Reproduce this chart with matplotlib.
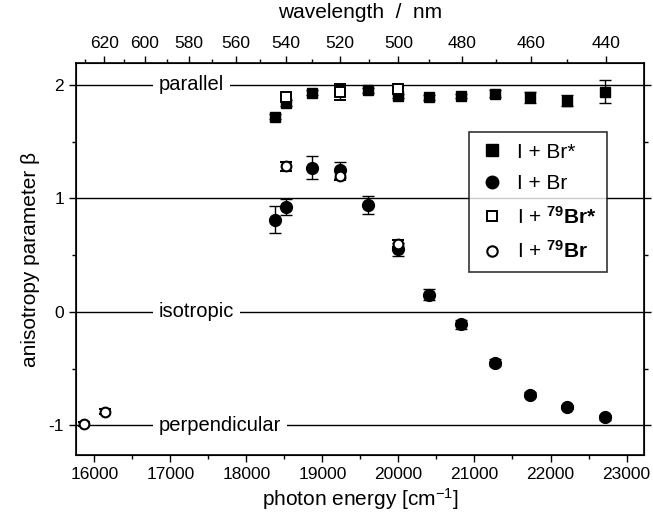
import numpy as np
import matplotlib
matplotlib.use("Agg")
import matplotlib.pyplot as plt
from matplotlib.lines import Line2D

plt.rcParams['font.family'] = ['Liberation Sans', 'DejaVu Sans']
plt.rcParams['mathtext.fontset'] = 'custom'
plt.rcParams['mathtext.rm'] = 'Liberation Sans'
plt.rcParams['mathtext.bf'] = 'Liberation Sans:bold'
plt.rcParams['mathtext.it'] = 'Liberation Sans:italic'
plt.rcParams['axes.unicode_minus'] = False

# I + Br* (filled squares)
e_brs = [18380, 18520, 18860, 19600, 20000, 20400, 20820, 21270, 21730, 22220, 22720]
b_brs = [1.72, 1.84, 1.93, 1.95, 1.90, 1.89, 1.90, 1.92, 1.89, 1.86, 1.94]
s_brs = [0.02, 0.03, 0.02, 0.02, 0.02, 0.02, 0.02, 0.03, 0.05, 0.05, 0.10]

# I + Br (filled circles)
e_br = [18380, 18520, 18860, 19230, 19600, 20000, 20400, 20820, 21270, 21730, 22220, 22720]
b_br = [0.81, 0.92, 1.27, 1.25, 0.94, 0.55, 0.15, -0.11, -0.45, -0.73, -0.84, -0.93]
s_br = [0.12, 0.07, 0.10, 0.07, 0.08, 0.06, 0.05, 0.04, 0.03, 0.02, 0.02, 0.02]

# I + 79Br* (open squares)
e_79s = [18520, 19230, 20000]
b_79s = [1.89, 1.94, 1.96]
s_79s = [0.02, 0.07, 0.02]

# I + 79Br (open circles)
e_79 = [15860, 16140, 18520, 19230, 20000]
b_79 = [-0.99, -0.88, 1.28, 1.20, 0.60]
s_79 = [0.02, 0.02, 0.04, 0.04, 0.03]

ref_levels = [2, 1, 0, -1]
ref_labels = {2: 'parallel', 0: 'isotropic', -1: 'perpendicular'}

x_ticks = [16000, 17000, 18000, 19000, 20000, 21000, 22000, 23000]
y_ticks = [-1, 0, 1, 2]
wl_major = [620, 600, 580, 560, 540, 520, 500, 480, 460, 440]
wl_minor = [630, 610, 590, 570, 550, 530, 510, 490, 470, 450]

fig = plt.figure(figsize=(6.53, 5.18), dpi=100)
ax = fig.add_axes([0.116, 0.122, 0.870, 0.756])
xlim = (15755, 23228)
ax.set_xlim(*xlim)
ax.set_ylim(-1.26, 2.19)

for lv in ref_levels:
    ax.axhline(lv, color='black', lw=1.0, zorder=1)
for lv, lab in ref_labels.items():
    ax.text(16850, lv, lab, ha='left', va='center', fontsize=14.5,
            bbox=dict(facecolor='white', edgecolor='none', pad=4), zorder=2)

ekw = dict(ecolor='black', elinewidth=1.0, capsize=4, capthick=1.0, linestyle='none', zorder=3)
ax.errorbar(e_brs, b_brs, yerr=s_brs, marker='s', ms=7.5, mfc='black', mec='black', **ekw)
ax.errorbar(e_br, b_br, yerr=s_br, marker='o', ms=8.5, mfc='black', mec='black', **ekw)
ax.errorbar(e_79s, b_79s, yerr=s_79s, marker='s', ms=6.5, mfc='white', mec='black', mew=1.4, **ekw)
ax.errorbar(e_79, b_79, yerr=s_79, marker='o', ms=7, mfc='white', mec='black', mew=1.5, **ekw)

ax.set_xticks(x_ticks)
ax.set_xticks(np.arange(16500, 23001, 1000), minor=True)
ax.set_yticks(y_ticks)
ax.set_yticks([-0.5, 0.5, 1.5], minor=True)
ax.tick_params(axis='both', which='major', direction='out', length=5, width=1.0, labelsize=12.5)
ax.tick_params(axis='both', which='minor', direction='out', length=3, width=1.0)
ax.tick_params(axis='y', right=True, which='both')
for sp in ax.spines.values():
    sp.set_linewidth(1.2)

ax.set_xlabel('photon energy [cm$^{-1}$]', fontsize=15, labelpad=3)
ax.set_ylabel('anisotropy parameter β', fontsize=15, labelpad=6)

ax2 = ax.twiny()
ax2.set_xlim(*xlim)
ax2.set_xticks([1e7 / w for w in wl_major])
ax2.set_xticklabels([str(w) for w in wl_major])
ax2.set_xticks([1e7 / w for w in wl_minor], minor=True)
ax2.tick_params(axis='x', which='major', direction='out', length=5, width=1.0, labelsize=12.5)
ax2.tick_params(axis='x', which='minor', direction='out', length=3, width=1.0)
ax2.set_xlabel('wavelength  /  nm', fontsize=15, labelpad=13)

handles = [
    Line2D([], [], marker='s', ls='none', ms=8, mfc='black', mec='black'),
    Line2D([], [], marker='o', ls='none', ms=9, mfc='black', mec='black'),
    Line2D([], [], marker='s', ls='none', ms=7, mfc='white', mec='black', mew=1.4),
    Line2D([], [], marker='o', ls='none', ms=7.5, mfc='white', mec='black', mew=1.5),
]
labels = ['I + Br*', 'I + Br', r'I + $^{\mathbf{79}}\mathbf{Br{*}}$', r'I + $^{\mathbf{79}}\mathbf{Br}$']
leg = ax.legend(handles, labels, loc='upper left', bbox_to_anchor=(0.692, 0.824),
                fontsize=15, frameon=True, fancybox=False, borderpad=0.5,
                labelspacing=0.6, handletextpad=0.6, handlelength=1.2, borderaxespad=0)
leg.get_frame().set_edgecolor('black')
leg.get_frame().set_linewidth(1.2)
leg.set_zorder(5)

fig.savefig('out.png', dpi=100)
